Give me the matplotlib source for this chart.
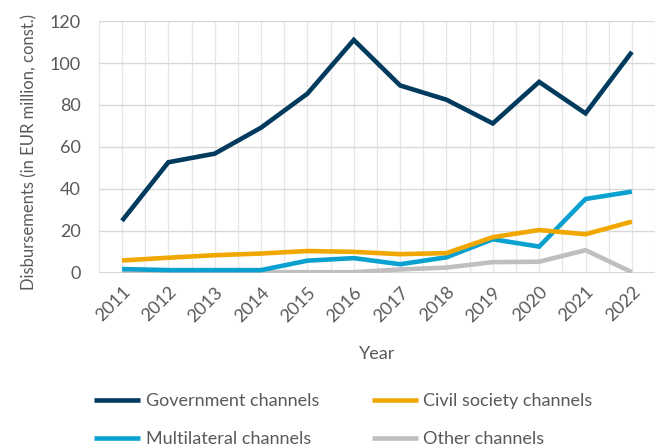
#!/bin/python

# Disbursements by channel, 2011-2022

import numpy as np
import matplotlib
matplotlib.use('Agg')
import matplotlib.pyplot as plt

########
# DATA #
########

years = [2011, 2012, 2013, 2014, 2015, 2016, 2017, 2018, 2019, 2020, 2021, 2022]

government = [24.8, 52.7, 56.8, 69.2, 85.4, 111.0, 89.3, 82.5, 71.2, 91.0, 76.0, 105.3]
civil_society = [5.9, 7.2, 8.4, 9.2, 10.4, 10.0, 8.9, 9.4, 17.0, 20.4, 18.4, 24.4]
multilateral = [1.8, 1.3, 1.3, 1.3, 5.8, 7.0, 4.1, 7.4, 16.0, 12.5, 35.2, 38.7]
other = [0.3, 0.3, 0.3, 0.3, 0.3, 0.3, 1.6, 2.5, 5.1, 5.3, 10.8, 0.3]

labels = ['Government channels', 'Civil society channels',
          'Multilateral channels', 'Other channels']
colors = ['#003A5D', '#F0A800', '#0AA1D1', '#BFBFBF']

############
# PLOTTING #
############

plt.rcParams['font.family'] = ['Lato', 'DejaVu Sans']
grey = '#595959'
fs = 13

fig = plt.figure(figsize=(6.59, 4.48), dpi=100)
ax = fig.add_axes([0.150, 0.391, 0.844, 0.562])

x = np.arange(len(years))
series = [government, civil_society, multilateral, other]
# draw order: grey first, blue, yellow, navy on top
lines = {}
for i in [3, 2, 1, 0]:
    lines[i], = ax.plot(x, series[i], color=colors[i], lw=3.3, label=labels[i],
                        solid_capstyle='butt', solid_joinstyle='miter',
                        zorder=3 + (3 - i))

ax.set_xlim(-0.5, len(years) - 0.5)
ax.set_ylim(0, 120)
ax.set_yticks(np.arange(0, 121, 20))
ax.set_xticks(x)
ax.set_xticklabels([str(y) for y in years], rotation=45, ha='right',
                   va='top', rotation_mode='anchor', fontsize=fs, color=grey)
ax.tick_params(axis='y', labelsize=fs, labelcolor=grey, length=0, pad=13)
ax.tick_params(axis='x', length=0, pad=8)

# gridlines
for yv in np.arange(20, 121, 20):
    ax.axhline(yv, color='#D9D9D9', lw=1.0, zorder=1)
ax.axhline(0, color='#D0D0D0', lw=1.2, zorder=2)
for xv in np.arange(-0.5, len(years), 0.5):
    ax.axvline(xv, color='#E6E6E6', lw=0.9, zorder=0)

for s in ax.spines.values():
    s.set_visible(False)

ax.set_xlabel('Year', fontsize=fs, color=grey, labelpad=15)
ax.set_ylabel('Disbursements (in EUR million, const.)', fontsize=12,
              color=grey, labelpad=11)
ax.yaxis.set_label_coords(-0.11, 0.48)

# legend fills column-wise, so order gives rows Gov/Civil and Multi/Other
order = [0, 2, 1, 3]
fig.legend([lines[k] for k in order], [labels[k] for k in order], ncol=2,
           loc='upper center', bbox_to_anchor=(0.521, 0.158),
           frameon=False, fontsize=fs, handlelength=2.55,
           columnspacing=2.9, labelspacing=1.2, handletextpad=0.3,
           labelcolor=grey)

fig.savefig('out.png', dpi=100)
plt.close()
